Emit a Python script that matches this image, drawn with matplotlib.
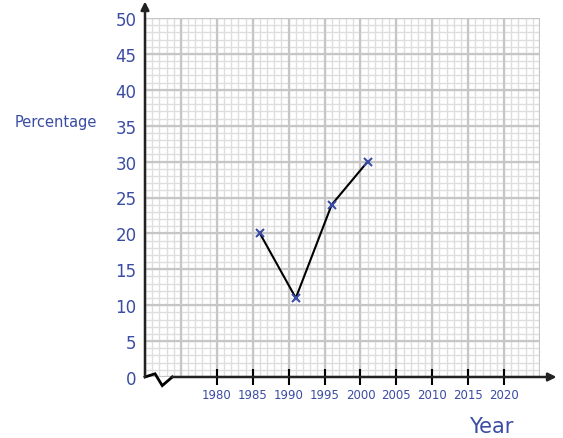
import matplotlib

matplotlib.use("Agg")

import matplotlib.pyplot as plt
import numpy as np

years = [1986, 1991, 1996, 2001]
percentages = [20, 11, 24, 30]
x_tick_years = [1980, 1985, 1990, 1995, 2000, 2005, 2010, 2015, 2020]
y_tick_values = [0, 5, 10, 15, 20, 25, 30, 35, 40, 45, 50]

BLUE = "#3a4ca4"
X_MIN, X_MAX = 1970, 2025
Y_MIN, Y_MAX = 0, 50

fig = plt.figure(figsize=(5.63, 4.39), dpi=100)
ax = fig.add_axes([145 / 563, 61 / 439, (540 - 145) / 563, (378 - 19) / 439])
ax.set_xlim(X_MIN, X_MAX)
ax.set_ylim(Y_MIN, Y_MAX)
for side in ax.spines.values():
    side.set_visible(False)

# graph paper
minor_x = np.arange(X_MIN, X_MAX + 1, 1)
minor_y = np.arange(Y_MIN, Y_MAX + 1, 1)
ax.vlines(minor_x, Y_MIN, Y_MAX, colors="#dedede", lw=1.0, zorder=0)
ax.hlines(minor_y, X_MIN, X_MAX, colors="#dedede", lw=1.0, zorder=0)
ax.vlines(minor_x[::5], Y_MIN, Y_MAX, colors="#c6c6c6", lw=1.6, zorder=0.5)
ax.hlines(minor_y[::5], X_MIN, X_MAX, colors="#c6c6c6", lw=1.6, zorder=0.5)

# axes with break squiggle and arrows
ax.plot([1970, 1971.4, 1972.4, 1973.8], [0, 0.45, -1.2, 0], color="black", lw=2,
        clip_on=False, zorder=3, solid_joinstyle="miter")
ax.annotate("", xy=(2027.3, 0), xytext=(1973.7, 0), xycoords="data",
            arrowprops=dict(arrowstyle="-|>", color="#222222", lw=1.8,
                            mutation_scale=12, shrinkA=0, shrinkB=0),
            annotation_clip=False, zorder=3)
ax.annotate("", xy=(1970, 52.3), xytext=(1970, 0), xycoords="data",
            arrowprops=dict(arrowstyle="-|>", color="#222222", lw=1.8,
                            mutation_scale=12, shrinkA=0, shrinkB=0),
            annotation_clip=False, zorder=3)

ax.set_xticks(x_tick_years)
ax.set_xticklabels([str(y) for y in x_tick_years])
ax.set_yticks(y_tick_values)
ax.set_yticklabels([str(v) for v in y_tick_values])
ax.tick_params(axis="x", direction="inout", length=12, width=1.5, color="black",
               labelsize=8.5, labelcolor=BLUE, pad=2)
ax.tick_params(axis="y", length=0, labelsize=12, labelcolor=BLUE, pad=6)

ax.plot(years, percentages, color="black", lw=1.5, zorder=4)
ax.plot(years, percentages, ls="none", marker="x", color=BLUE, ms=6, mew=1.5, zorder=5)

fig.text(56 / 563, 1 - 123 / 439, "Percentage", color=BLUE, fontsize=10.5,
         ha="center", va="center")
fig.text(491 / 563, 1 - 427 / 439, "Year", color=BLUE, fontsize=15,
         ha="center", va="center")

fig.savefig("out.png", dpi=100)
